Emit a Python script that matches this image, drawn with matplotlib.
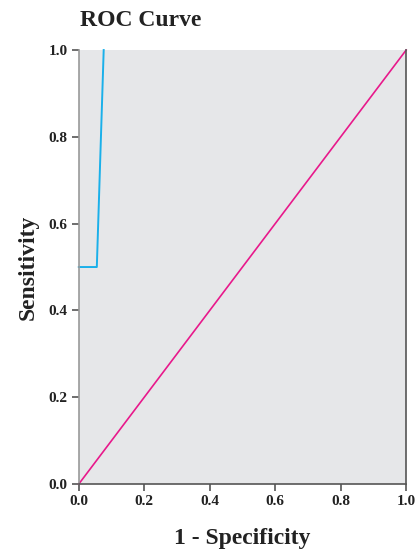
import matplotlib
matplotlib.use("Agg")
import matplotlib.pyplot as plt

fpr = [0.0, 0.055, 0.076]
tpr = [0.5, 0.5, 1.0]
diag_x = [0.0, 1.0]
diag_y = [0.0, 1.0]
xticks = [0.0, 0.2, 0.4, 0.6, 0.8, 1.0]
xticklabels = ["0.0", "0.2", "0.4", "0.6", "0.8", "1.0"]
yticks = [0.0, 0.2, 0.4, 0.6, 0.8, 1.0]
yticklabels = ["0.0", "0.2", "0.4", "0.6", "0.8", "1.0"]

plt.rcParams['font.family'] = ['Liberation Serif', 'DejaVu Serif']
fig = plt.figure(figsize=(4.17, 5.5), dpi=100)
ax = fig.add_axes([0.189, 0.12, 0.785, 0.789])
ax.set_facecolor('#e6e7e9')
ax.plot(diag_x, diag_y, color='#e8198b', lw=1.2, clip_on=False)
ax.plot(fpr, tpr, color='#1ab0ea', lw=1.4, clip_on=False)
ax.set_xlim(0, 1)
ax.set_ylim(0, 1)
ax.set_xticks(xticks)
ax.set_xticklabels(xticklabels, fontsize=11, fontweight='bold', color='#222222')
ax.set_yticks(yticks)
ax.set_yticklabels(yticklabels, fontsize=11, fontweight='bold', color='#222222')
ax.spines['top'].set_visible(False)
for s in ['left', 'bottom', 'right']:
    ax.spines[s].set_color('#555555')
    ax.spines[s].set_linewidth(1.2)
ax.spines['left'].set_color('#999999')
ax.tick_params(length=5, width=1.2, color='#555555', pad=3)
ax.set_xlabel('1 - Specificity', fontsize=17, fontweight='bold', color='#222222', labelpad=14)
ax.set_ylabel('Sensitivity', fontsize=17, fontweight='bold', color='#222222', labelpad=7)
fig.text(0.192, 0.962, 'ROC Curve', fontsize=17, fontweight='bold', color='#222222', ha='left', va='center')
fig.savefig('out.png', dpi=100, facecolor='white')
